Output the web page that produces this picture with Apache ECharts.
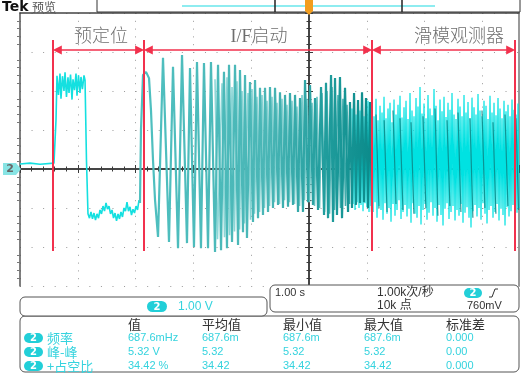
<!DOCTYPE html>
<html>
<head>
<meta charset="utf-8">
<script src="https://cdn.jsdelivr.net/npm/echarts@6.0.0/dist/echarts.min.js"></script>
<style>
html, body { margin: 0; padding: 0; background: #fff; }
#chart { width: 524px; height: 378px; }
</style>
</head>
<body>
<div id="chart"></div>
<script>
// 1.00 s/div, 1.00 V/div
const timeMin = -5
const timeMax = 3.633
const voltMin = -3
const voltMax = 4

// 阶段分界 (s) 和标签
const phaseBounds = [-4.43, -2.855, 1.09, 3.564]
const phaseNames = ['预定位', 'I/F启动', '滑模观测器']
const phaseLabelT = [-3.6, -0.865, 2.595]

// 预定位段 [t, V]
const prePoints = [
    [-5.0, 0.13], [-4.827, 0.15], [-4.654, 0.12], [-4.412, 0.15], [-4.377, 1.26], [-4.360, 2.39],
    [-4.334, 1.90], [-4.308, 2.45], [-4.291, 1.80], [-4.265, 2.38], [-4.239, 2.00], [-4.221, 2.48],
    [-4.196, 1.85], [-4.170, 2.35], [-4.152, 1.95], [-4.126, 2.42], [-4.100, 1.78], [-4.083, 2.30],
    [-4.057, 2.02], [-4.031, 2.45], [-4.014, 1.88], [-3.988, 2.40], [-3.962, 1.95], [-3.945, 2.36],
    [-3.920, 2.05], [-3.893, 2.40], [-3.875, 2.28], [-3.850, 0.23], [-3.824, -1.15],
    [-3.798, -1.26], [-3.772, -1.10], [-3.746, -1.28], [-3.720, -1.13], [-3.694, -1.31], [-3.668, -1.15],
    [-3.642, -1.26], [-3.616, -1.05], [-3.590, -1.15], [-3.564, -0.95], [-3.538, -1.08], [-3.512, -0.87],
    [-3.486, -1.03], [-3.460, -0.95], [-3.434, -1.15], [-3.408, -1.05], [-3.382, -1.26], [-3.356, -1.13],
    [-3.330, -1.33], [-3.304, -1.15], [-3.279, -1.28], [-3.253, -1.10], [-3.227, -1.23], [-3.201, -1.00],
    [-3.175, -1.08], [-3.149, -0.85], [-3.123, -1.08], [-3.097, -0.97], [-3.071, -1.18], [-3.045, -1.03],
    [-3.019, -1.13], [-2.993, -0.95], [-2.967, -1.05], [-2.941, -0.80]
]

// I/F 启动段 峰/谷 [t, V]
const ifPoints = [
    [-2.924, -0.87], [-2.907, 1.0], [-2.872, 2.41], [-2.820, 2.49], [-2.768, 2.33], [-2.734, 1.51],
    [-2.699, 0.23], [-2.664, -0.79], [-2.612, -1.74],
    [-2.526, 2.85], [-2.422, -1.87], [-2.353, 2.62], [-2.266, -2.03], [-2.197, 2.92], [-2.111, -1.90],
    [-2.059, 2.59], [-1.990, -2.00], [-1.938, 2.74], [-1.869, -2.03], [-1.817, 2.72], [-1.747, -2.03],
    [-1.696, 2.74], [-1.626, -2.13], [-1.574, 2.67], [-1.522, -2.08], [-1.471, 2.49], [-1.419, -2.03],
    [-1.384, 2.67], [-1.332, -1.87], [-1.280, 2.67], [-1.228, -1.95], [-1.194, 2.54], [-1.142, -1.62],
    [-1.107, 2.41], [-1.073, -1.77], [-1.021, 2.23], [-0.969, -1.36], [-0.934, 2.28], [-0.882, -1.26],
    [-0.848, 2.08], [-0.796, -1.18], [-0.761, 2.08], [-0.709, -1.10], [-0.675, 2.10], [-0.623, -1.00],
    [-0.588, 2.08], [-0.536, -0.92], [-0.502, 1.97], [-0.450, -1.00], [-0.415, 1.90], [-0.363, -0.97],
    [-0.329, 1.95], [-0.277, -0.92], [-0.242, 1.90], [-0.190, -1.10], [-0.156, 1.82], [-0.104, -1.10],
    [-0.069, 2.28], [-0.017, -0.85], [0.017, 2.15], [0.069, -0.92], [0.104, 1.82], [0.156, -1.05],
    [0.208, 2.10], [0.260, -1.18], [0.294, 2.21], [0.329, -1.26], [0.381, 2.41], [0.415, -1.36],
    [0.450, 2.33], [0.484, -1.18], [0.536, 2.36], [0.571, -1.26], [0.623, 2.08], [0.675, -1.10],
    [0.709, 1.72], [0.744, -1.00], [0.779, 1.95], [0.813, -0.92], [0.848, 1.77], [0.882, -0.87],
    [0.917, 1.97], [0.952, -0.85], [0.986, 1.82], [1.021, -1.00], [1.055, 1.72], [1.090, -1.10]
]

// I/F 段余辉中夹在主峰之间的浅色轨迹 [t, V]
const ifGhostPoints = [
    [-1.626, 2.30], [-1.583, -1.80], [-1.505, 2.20], [-1.462, -1.75], [-1.419, 2.35], [-1.375, -1.70],
    [-1.332, 2.10], [-1.289, -1.60], [-1.246, 2.25], [-1.202, -1.55], [-1.159, 2.00], [-1.116, -1.40],
    [-1.055, 1.95], [-1.012, -1.30], [-0.986, 2.05], [-0.943, -1.15], [-0.900, 1.85], [-0.856, -1.10],
    [-0.813, 1.90], [-0.770, -1.00], [-0.727, 1.75], [-0.683, -0.95], [-0.640, 1.85], [-0.597, -0.85],
    [-0.554, 1.70], [-0.510, -0.90], [-0.467, 1.80], [-0.424, -0.80], [-0.381, 1.65], [-0.337, -0.85],
    [-0.294, 1.75], [-0.251, -0.90], [-0.208, 1.60], [-0.164, -0.95], [-0.121, 1.90], [-0.078, -0.80],
    [-0.035, 1.80], [0.009, -0.85], [0.052, 1.70], [0.095, -0.95], [0.138, 1.85], [0.182, -1.00],
    [0.225, 1.95], [0.268, -1.10], [0.311, 2.00], [0.355, -1.15], [0.398, 2.10], [0.441, -1.05],
    [0.502, 1.90], [0.545, -1.00], [0.588, 1.80], [0.631, -0.95], [0.657, 1.65], [0.701, -0.90]
]

// 滑模段 采样 (起点 s, 采样间隔 s), 每个采样的高/低值 (V)
const smStart = 0.744
const smStep = 0.0346
const smHigh = [
    1.55, 1.80, 1.40, 1.70, 1.50, 1.85, 1.35, 1.65, 1.75, 1.45,
    1.72, 1.35, 1.80, 1.25, 1.62, 1.45, 1.85, 1.30, 1.55, 1.70, 1.20, 1.78, 1.40, 1.65, 1.88, 1.32,
    1.58, 1.75, 1.28, 1.95, 1.50, 1.35, 1.82, 1.60, 2.10, 1.42, 1.68, 1.30, 1.90, 1.55, 1.38, 2.05,
    1.62, 1.25, 1.78, 1.48, 1.85, 1.33, 1.70, 1.52, 1.95, 1.40, 1.28, 1.80, 1.60, 1.35, 1.90, 1.45,
    1.72, 1.30, 1.83, 1.58, 1.40, 1.92, 1.50, 1.35, 1.75, 1.62, 1.28, 1.88, 1.45, 1.70, 1.38, 1.82,
    1.55, 1.30, 1.75, 1.48, 1.65, 1.35, 1.78, 1.52, 1.40, 1.68
]
const smLow = [
    -0.90, -1.05, -0.85, -1.00, -0.92, -1.08, -0.88, -0.98, -1.10, -0.95,
    -1.10, -0.85, -1.25, -0.95, -1.05, -1.30, -0.88, -1.15, -1.00, -1.35, -0.90, -1.20, -1.05, -0.80,
    -1.28, -1.10, -0.92, -1.22, -1.02, -1.38, -0.88, -1.15, -1.25, -0.95, -1.42, -1.05, -0.90, -1.30,
    -1.12, -0.85, -1.20, -1.00, -1.35, -0.92, -1.18, -1.45, -1.02, -0.88, -1.28, -1.10, -0.95, -1.32,
    -1.05, -1.20, -0.90, -1.38, -1.12, -0.98, -1.25, -1.50, -1.08, -0.92, -1.22, -1.00, -1.30, -0.88,
    -1.15, -1.40, -1.05, -0.95, -1.25, -1.10, -0.90, -1.32, -1.02, -1.18, -1.45, -0.98, -1.22, -1.08,
    -0.92, -1.30, -1.12, -1.00
]

// 滑模段 深色竖线: 上端 / 下端 [t, V]
const smDarkTop = [
    [1.159, 1.40], [1.300, 1.25], [1.453, 1.50], [1.574, 1.30], [1.765, 1.20], [1.972, 1.35],
    [2.180, 1.55], [2.388, 1.25], [2.578, 1.45], [2.785, 1.30], [2.993, 1.50], [3.183, 1.20],
    [3.391, 1.40], [3.581, 1.30]
]
const smDarkBottom = [
    [1.210, -1.00], [1.350, -1.10], [1.505, -0.90], [1.625, -1.05], [1.815, -1.15], [2.022, -1.00],
    [2.230, -1.20], [2.438, -0.95], [2.628, -1.10], [2.835, -1.25], [3.043, -1.00], [3.233, -1.15],
    [3.441, -0.95], [3.625, -1.05]
]

// 测量表
const measHeaders = ['值', '平均值', '最小值', '最大值', '标准差']
const measNames = ['频率', '峰-峰', '+占空比']
const freqValues = ['687.6mHz', '687.6m', '687.6m', '687.6m', '0.000']
const p2pValues = ['5.32 V', '5.32', '5.32', '5.32', '0.00']
const dutyValues = ['34.42 %', '34.42', '34.42', '34.42', '0.000']

const CYAN = '#22cfd8'
const TEXT_CYAN = '#35d3de'
const RED = '#f2314d'
const CJK = '"Noto Sans CJK SC"'
const LATIN = '"Liberation Sans"'

function buildSlideData() {
    const data = []
    smHigh.forEach((h, i) => {
        const t = smStart + i * smStep
        data.push([t, h])
        data.push([t + smStep / 2, smLow[i]])
    })
    return data
}

function buildDarkStrokes() {
    // 每条竖线单独一段, 中间用空值断开
    const data = []
    smDarkTop.forEach((top, i) => {
        data.push(top)
        data.push(smDarkBottom[i])
        data.push([smDarkBottom[i][0], '-'])
    })
    return data
}

function buildMarkerLines() {
    const top = 3.31
    const bottom = -2.1
    return phaseBounds.map(t => [{coord: [t, top]}, {coord: [t, bottom]}])
}

function buildArrowLines() {
    const y = 3.05
    const gap = 0.075
    const lines = []
    for (let i = 0; i < phaseBounds.length - 1; i++) {
        lines.push([{coord: [phaseBounds[i] + gap, y]}, {coord: [phaseBounds[i + 1] - gap, y]}])
    }
    return lines
}

function pill(x, y, w, h) {
    return [
        {type: 'rect', z: 101, shape: {x: x, y: y, width: w, height: h, r: h / 2}, style: {fill: CYAN}},
        {type: 'text', z: 102, x: x + w / 2, y: y + h / 2 + 0.5,
            style: {text: '2', fill: '#fff', font: 'bold 10px "DejaVu Sans"', textAlign: 'center', textVerticalAlign: 'middle'}}
    ]
}

function text(x, y, str, font, fill, align) {
    return {type: 'text', z: 102, x: x, y: y,
        style: {text: str, font: font, fill: fill, textAlign: align || 'left', textVerticalAlign: 'middle'}}
}

function buildGraphics() {
    const g = []

    // 顶部状态栏
    g.push(text(2, 7, 'Tek', 'bold 14px "DejaVu Sans"', '#111'))
    g.push(text(32, 7, '预览', '12px ' + CJK, '#555'))
    g.push({type: 'polyline', z: 100, shape: {points: [[97, 0], [97, 12], [520, 12], [520, 0]]},
        style: {stroke: '#333', lineWidth: 1, fill: null}})
    g.push({type: 'line', z: 100, shape: {x1: 182, y1: 6, x2: 435, y2: 6}, style: {stroke: '#8eecf0', lineWidth: 2}})
    g.push({type: 'line', z: 101, shape: {x1: 275, y1: 0, x2: 275, y2: 12}, style: {stroke: '#222', lineWidth: 1.5}})
    g.push({type: 'line', z: 101, shape: {x1: 402, y1: 0, x2: 402, y2: 12}, style: {stroke: '#222', lineWidth: 1.5}})
    g.push({type: 'polygon', z: 102, shape: {points: [[305, 0], [313, 0], [313, 11], [309, 15], [305, 11]]},
        style: {fill: '#f29d1e'}})

    // 通道2 地电平标记
    g.push({type: 'polygon', z: 100, shape: {points: [[3, 163], [16, 163], [21, 169], [16, 175], [3, 175]]},
        style: {fill: '#88e4e4'}})
    g.push(text(10, 169.5, '2', 'bold 11px "DejaVu Sans"', '#666', 'center'))

    // 垂直刻度面板
    g.push({type: 'rect', z: 100, shape: {x: 20, y: 297, width: 247, height: 19, r: 5},
        style: {fill: '#fff', stroke: '#555', lineWidth: 1}})
    g.push(...pill(147, 301, 20, 11))
    g.push(text(178, 307, '1.00 V', '12px ' + LATIN, TEXT_CYAN))

    // 水平/触发面板
    g.push({type: 'rect', z: 100, shape: {x: 270, y: 285, width: 249, height: 27, r: 5},
        style: {fill: '#fff', stroke: '#555', lineWidth: 1}})
    g.push(text(275, 293, '1.00 s', '11px ' + LATIN, '#333'))
    g.push(text(377, 293, '1.00k次/秒', '12px ' + LATIN + ', ' + CJK, '#333'))
    g.push(text(377, 306, '10k 点', '12px ' + LATIN + ', ' + CJK, '#333'))
    g.push(...pill(464, 288, 18, 10))
    g.push({type: 'polyline', z: 102, shape: {points: [[489, 297], [492, 297], [495, 289], [498, 289]]},
        style: {stroke: '#333', lineWidth: 1, fill: null}})
    g.push(text(467, 306, '760mV', '11px ' + LATIN, '#333'))

    // 测量面板
    g.push({type: 'rect', z: 99, shape: {x: 20, y: 316, width: 499, height: 56, r: 5},
        style: {fill: '#fff', stroke: '#555', lineWidth: 1}})
    const colX = [128, 202, 283, 364, 446]
    const rowY = [338, 352, 366]
    measHeaders.forEach((h, i) => g.push(text(colX[i], 324, h, '13px ' + CJK, '#333')))
    const rows = [freqValues, p2pValues, dutyValues]
    measNames.forEach((name, r) => {
        g.push(...pill(24, rowY[r] - 5, 19, 10))
        g.push(text(47, rowY[r], name, '13px ' + CJK, TEXT_CYAN))
        rows[r].forEach((v, c) => g.push(text(colX[c], rowY[r], v, '11px ' + LATIN, TEXT_CYAN)))
    })
    return g
}

function centerXAxis(inside) {
    return {
        type: 'value', min: timeMin, max: timeMax, interval: 1, position: 'bottom',
        axisLine: {onZero: true, lineStyle: {color: '#3a3a3a', width: 1.5}},
        axisTick: {show: true, inside: inside, length: 4, lineStyle: {color: '#3a3a3a'}},
        minorTick: {show: true, splitNumber: 5, length: 2.5, lineStyle: {color: '#3a3a3a'}},
        axisLabel: {show: false},
        splitLine: {show: !inside, lineStyle: {color: '#999', width: 1, type: [1, 6.8]}}
    }
}

function centerYAxis(inside) {
    return {
        type: 'value', min: voltMin, max: voltMax, interval: 1, position: 'left',
        axisLine: {onZero: true, lineStyle: {color: '#3a3a3a', width: 1.5}},
        axisTick: {show: true, inside: inside, length: 4, lineStyle: {color: '#3a3a3a'}},
        minorTick: {show: true, splitNumber: 5, length: 2.5, lineStyle: {color: '#3a3a3a'}},
        axisLabel: {show: false},
        splitLine: {show: !inside, lineStyle: {color: '#999', width: 1, type: [1, 10.56]}}
    }
}

const chart = echarts.init(document.getElementById('chart'))

const option = {
    animation: false,
    backgroundColor: '#fff',
    grid: {left: 20, top: 13, width: 499, height: 273, containLabel: false},
    xAxis: [
        centerXAxis(false),
        centerXAxis(true),
        {
            type: 'value', min: timeMin, max: timeMax, position: 'top',
            axisLine: {onZero: false, lineStyle: {color: '#444', width: 1.5}},
            axisTick: {show: false}, axisLabel: {show: false}, splitLine: {show: false}
        }
    ],
    yAxis: [
        centerYAxis(false),
        centerYAxis(true),
        {
            type: 'value', min: voltMin, max: voltMax, interval: 1, position: 'left',
            axisLine: {onZero: false, lineStyle: {color: '#555', width: 1.5}},
            axisTick: {show: false},
            minorTick: {show: true, splitNumber: 5, length: 3, lineStyle: {color: '#777'}},
            axisLabel: {show: false}, splitLine: {show: false}
        },
        {
            type: 'value', min: voltMin, max: voltMax, position: 'right',
            axisLine: {onZero: false, lineStyle: {color: '#999', width: 2}},
            axisTick: {show: false}, axisLabel: {show: false}, splitLine: {show: false}
        }
    ],
    series: [
        {
            name: 'pre', type: 'line', data: prePoints, showSymbol: false, silent: true,
            lineStyle: {color: '#14e0e0', width: 1.6}
        },
        {
            name: 'slide', type: 'line', data: buildSlideData(), showSymbol: false, silent: true,
            lineStyle: {color: '#00e2e2', width: 1.2}
        },
        {
            name: 'ifGhost', type: 'line', data: ifGhostPoints, showSymbol: false, silent: true,
            lineStyle: {
                width: 1.6,
                color: {
                    type: 'linear', x: 0, y: 0, x2: 1, y2: 0,
                    colorStops: [
                        {offset: 0, color: '#8fd8d8'},
                        {offset: 0.6, color: '#7fcfcf'},
                        {offset: 1, color: '#3aa8a8'}
                    ]
                }
            }
        },
        {
            name: 'if', type: 'line', data: ifPoints, showSymbol: false, silent: true,
            lineStyle: {
                width: 2.2,
                color: {
                    type: 'linear', x: 0, y: 0, x2: 1, y2: 0,
                    colorStops: [
                        {offset: 0, color: '#4fc0c0'},
                        {offset: 0.55, color: '#4ab6b6'},
                        {offset: 0.8, color: '#1f9c9c'},
                        {offset: 1, color: '#0a8a8a'}
                    ]
                }
            }
        },
        {
            name: 'slideDark', type: 'line', data: buildDarkStrokes(), showSymbol: false, silent: true,
            connectNulls: false,
            lineStyle: {color: '#0b8c8c', width: 1.2, opacity: 0.9}
        },
        {
            name: 'markers', type: 'line', data: [], silent: true,
            markLine: {
                silent: true, symbol: 'none', animation: false,
                label: {show: false},
                lineStyle: {color: RED, width: 2, type: 'solid'},
                data: buildMarkerLines()
            }
        },
        {
            name: 'arrows', type: 'line', data: [], silent: true,
            markLine: {
                silent: true, symbol: ['triangle', 'triangle'], symbolSize: 9, animation: false,
                label: {show: false},
                lineStyle: {color: RED, width: 1.5, type: 'solid'},
                itemStyle: {color: RED},
                data: buildArrowLines()
            }
        },
        {
            name: 'phases', type: 'scatter', silent: true, symbolSize: 1,
            itemStyle: {color: 'rgba(0,0,0,0)'},
            label: {
                show: true, position: 'inside', formatter: '{b}',
                fontSize: 18, color: '#4a4a4a',
                fontFamily: '"Liberation Serif", "Noto Sans CJK SC"', fontWeight: 300
            },
            data: phaseLabelT.map((t, i) => ({name: phaseNames[i], value: [t, 3.385]}))
        }
    ],
    graphic: buildGraphics()
}

chart.setOption(option)
</script>
</body>
</html>
